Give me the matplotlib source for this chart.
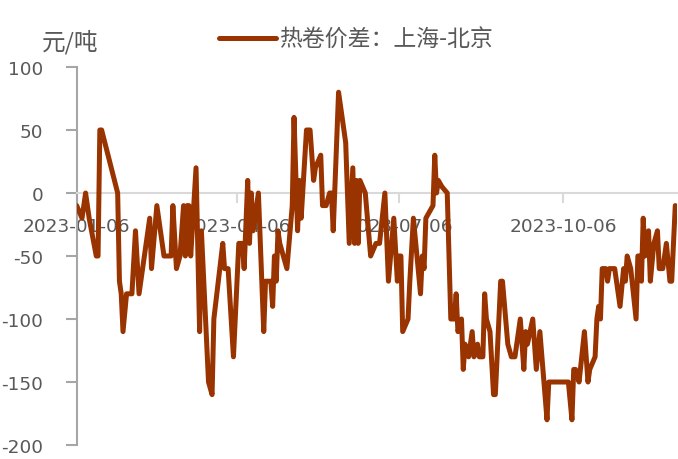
import matplotlib.pyplot as plt
import pandas as pd

# ---- data ----
dates = [
    '2023-01-06', '2023-01-09', '2023-01-11', '2023-01-13', '2023-01-17', '2023-01-18', '2023-01-19', '2023-01-20', '2023-01-29', '2023-01-30', '2023-01-31',
    '2023-02-01', '2023-02-03', '2023-02-06', '2023-02-08', '2023-02-10', '2023-02-13', '2023-02-14', '2023-02-16', '2023-02-17', '2023-02-20', '2023-02-24', '2023-02-28',
    '2023-03-01', '2023-03-03', '2023-03-05', '2023-03-07', '2023-03-08', '2023-03-09', '2023-03-10', '2023-03-11', '2023-03-14', '2023-03-16', '2023-03-17', '2023-03-21', '2023-03-23', '2023-03-24', '2023-03-29', '2023-03-30',
    '2023-04-01', '2023-04-04', '2023-04-07', '2023-04-09', '2023-04-10', '2023-04-12', '2023-04-13', '2023-04-14', '2023-04-15', '2023-04-18', '2023-04-21', '2023-04-22', '2023-04-25', '2023-04-26', '2023-04-27', '2023-04-28', '2023-04-29', '2023-04-30',
    '2023-05-04', '2023-05-07', '2023-05-08', '2023-05-10', '2023-05-11', '2023-05-12', '2023-05-15', '2023-05-17', '2023-05-19', '2023-05-20', '2023-05-23', '2023-05-24', '2023-05-26', '2023-05-28', '2023-05-29', '2023-05-30',
    '2023-06-02', '2023-06-06', '2023-06-08', '2023-06-10', '2023-06-11', '2023-06-12', '2023-06-13', '2023-06-14', '2023-06-17', '2023-06-20', '2023-06-23', '2023-06-25', '2023-06-28', '2023-06-30',
    '2023-07-03', '2023-07-05', '2023-07-06', '2023-07-07', '2023-07-08', '2023-07-11', '2023-07-12', '2023-07-14', '2023-07-16', '2023-07-18', '2023-07-19', '2023-07-20', '2023-07-21', '2023-07-25', '2023-07-26', '2023-07-27', '2023-07-28', '2023-07-30',
    '2023-08-02', '2023-08-04', '2023-08-06', '2023-08-07', '2023-08-08', '2023-08-10', '2023-08-11', '2023-08-12', '2023-08-14', '2023-08-16', '2023-08-17', '2023-08-19', '2023-08-20', '2023-08-22', '2023-08-23', '2023-08-24', '2023-08-26', '2023-08-28', '2023-08-29',
    '2023-09-01', '2023-09-02', '2023-09-05', '2023-09-07', '2023-09-09', '2023-09-12', '2023-09-14', '2023-09-15', '2023-09-16', '2023-09-19', '2023-09-21', '2023-09-23', '2023-09-27', '2023-09-28',
    '2023-10-09', '2023-10-11', '2023-10-12', '2023-10-13', '2023-10-15', '2023-10-18', '2023-10-20', '2023-10-21', '2023-10-24', '2023-10-25', '2023-10-26', '2023-10-27', '2023-10-28', '2023-10-30', '2023-10-31',
    '2023-11-01', '2023-11-04', '2023-11-06', '2023-11-07', '2023-11-09', '2023-11-10', '2023-11-11', '2023-11-13', '2023-11-16', '2023-11-17', '2023-11-18', '2023-11-19', '2023-11-20', '2023-11-21', '2023-11-23', '2023-11-24', '2023-11-26', '2023-11-28', '2023-11-29',
    '2023-12-01', '2023-12-03', '2023-12-05', '2023-12-06', '2023-12-08',
]
spread = [
    -10, -20, 0, -20, -50, -50, 50, 50, 0, -70, -80,
    -110, -80, -80, -30, -80, -50, -40, -20, -60, -10, -50, -50,
    -10, -60, -50, -10, -50, -10, -10, -50, 20, -110, -30, -150, -160, -100, -40, -60,
    -60, -130, -40, -40, -60, 10, -40, 0, -30, 0, -110, -70, -70, -90, -50, -70, -30, -40,
    -60, -10, 60, -30, 10, -20, 50, 50, 10, 20, 30, -10, -10, 0, 0, -30,
    80, 40, -40, 20, -40, 10, -40, 10, 0, -50, -40, -40, 0, -70,
    -20, -70, -50, -50, -110, -100, -70, -20, -50, -80, -50, -60, -20, -10, 30, 0, 10, 5,
    0, -100, -100, -80, -110, -100, -140, -120, -130, -110, -130, -120, -130, -130, -80, -100, -110, -160, -160,
    -70, -70, -120, -130, -130, -100, -140, -110, -120, -100, -140, -110, -180, -150,
    -150, -180, -140, -140, -150, -110, -150, -140, -130, -100, -90, -100, -60, -60, -70,
    -60, -60, -80, -90, -60, -70, -50, -60, -100, -50, -50, -70, -20, -50, -30, -70, -40, -30, -60,
    -60, -40, -70, -70, -10,
]
tick_dates = ['2023-01-06', '2023-04-06', '2023-07-06', '2023-10-06']
series_name = '热卷价差：上海-北京'
unit = '元/吨'

x = pd.to_datetime(dates)

plt.rcParams['font.family'] = ['DejaVu Sans', 'Noto Sans CJK SC']
plt.rcParams['axes.unicode_minus'] = False
grey_txt = '#595959'

fig = plt.figure(figsize=(6.78, 4.60), dpi=100)
ax = fig.add_axes([0.1131, 0.0304, 0.8855, 0.8218])

ax.plot(x, spread, color='#993300', lw=3.6, solid_joinstyle='round',
        solid_capstyle='round', label=series_name, zorder=3)

# axes
ax.set_ylim(-200, 100)
ax.set_yticks(range(-200, 101, 50))
ax.set_xlim(pd.Timestamp('2023-01-06'), pd.Timestamp('2023-12-09'))
ax.set_xticks(pd.to_datetime(tick_dates))
ax.set_xticklabels(tick_dates)

ax.spines['bottom'].set_position(('data', 0))
ax.spines['bottom'].set_color('#D9D9D9')
ax.spines['bottom'].set_linewidth(1.5)
ax.spines['left'].set_color('#A6A6A6')
ax.spines['left'].set_linewidth(1.5)
ax.spines[['top', 'right']].set_visible(False)

ax.tick_params(axis='x', length=7, width=1.5, color='#D9D9D9', pad=10,
               labelsize=13.3, labelcolor=grey_txt)
ax.tick_params(axis='y', length=8, width=1.5, color='#A6A6A6', pad=16,
               labelsize=13.3, labelcolor=grey_txt)

# unit label and legend
fig.text(42 / 678, 1 - 42 / 460, unit, ha='left', va='center', fontsize=17,
         color=grey_txt, family=['Noto Sans CJK SC', 'DejaVu Sans'])
ax.legend(loc='center', bbox_to_anchor=(0.525, 0.912), bbox_transform=fig.transFigure,
          frameon=False, handlelength=2.5, handletextpad=0.15, labelcolor=grey_txt,
          prop={'family': ['Noto Sans CJK SC', 'DejaVu Sans'], 'size': 16.5})

fig.savefig('out.png', dpi=100)
